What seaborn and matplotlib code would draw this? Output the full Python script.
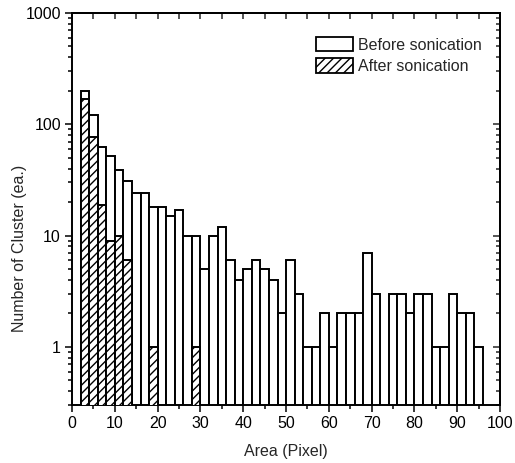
import numpy as np
import pandas as pd
import matplotlib
matplotlib.use("Agg")
import matplotlib.pyplot as plt
from matplotlib.ticker import MultipleLocator, LogLocator, FixedFormatter, FixedLocator
from matplotlib.patches import Patch
import seaborn as sns

# bin centres of the area histogram (bins are 2 px wide, 2..96)
area = list(range(3, 97, 2))

# counts, before sonication
before = [200, 122, 62, 52, 39, 31, 24, 24, 18, 18, 15, 17,
          10, 10, 5, 10, 12, 6, 4, 5, 6, 5, 4, 2,
          6, 3, 1, 1, 2, 1, 2, 2, 2, 7, 3, 0,
          3, 3, 2, 3, 3, 1, 1, 3, 2, 2, 1]

# counts after sonication
after = [170, 77, 19, 9, 10, 6, 0, 0, 1, 0, 0, 0,
         0, 1, 0, 0, 0, 0, 0, 0, 0, 0, 0, 0,
         0, 0, 0, 0, 0, 0, 0, 0, 0, 0, 0, 0,
         0, 0, 0, 0, 0, 0, 0, 0, 0, 0, 0]

df = pd.DataFrame({"area": area, "before": before, "after": after})
df = df.replace(0, np.nan)

sns.set_theme(style="ticks")
plt.rcParams["font.family"] = ["Liberation Sans", "DejaVu Sans"]
plt.rcParams["hatch.linewidth"] = 1.0

fig = plt.figure(figsize=(5.15, 4.63), dpi=100)
ax = fig.add_axes([0.14, 0.125, 0.831, 0.847])
ax.set_yscale("log")

# before sonication: open bars
sns.barplot(data=df, x="area", y="before", native_scale=True, width=1.0,
            color="white", edgecolor="black", linewidth=1.4, saturation=1,
            ax=ax, zorder=2)
# after sonication: hatched bars on top
sns.barplot(data=df, x="area", y="after", native_scale=True, width=1.0,
            color="white", edgecolor="black", linewidth=1.4, saturation=1,
            hatch="////", ax=ax, zorder=3)

ax.set_xlim(0, 100)
ax.set_ylim(0.3, 1000)
ax.xaxis.set_major_locator(MultipleLocator(10))
ax.xaxis.set_minor_locator(MultipleLocator(5))
ax.yaxis.set_major_locator(FixedLocator([1, 10, 100, 1000]))
ax.yaxis.set_major_formatter(FixedFormatter(["1", "10", "100", "1000"]))
ax.yaxis.set_minor_locator(LogLocator(base=10, subs=np.arange(2, 10)))
ax.yaxis.set_minor_formatter(FixedFormatter([]))

for side in ["top", "right", "left", "bottom"]:
    ax.spines[side].set_visible(True)
    ax.spines[side].set_linewidth(1.4)
    ax.spines[side].set_color("black")

ax.tick_params(axis="both", which="both", direction="out", color="black",
               labelsize=11.5, width=1.1, labelcolor="black", pad=3)
ax.tick_params(which="major", length=5)
ax.tick_params(which="minor", length=3)

# mirrored inward ticks on top and right
top = ax.secondary_xaxis("top")
top.xaxis.set_major_locator(MultipleLocator(5))
top.tick_params(direction="in", length=4, width=1.1, labeltop=False)
right = ax.secondary_yaxis("right")
right.yaxis.set_major_locator(FixedLocator([1, 10, 100, 1000]))
right.yaxis.set_minor_locator(LogLocator(base=10, subs=np.arange(2, 10)))
right.tick_params(which="both", direction="in", width=1.1, labelright=False)
right.tick_params(which="major", length=5)
right.tick_params(which="minor", length=3)

ax.set_xlabel("Area (Pixel)", fontsize=11.5)
ax.xaxis.set_label_coords(0.5, -0.1)
ax.set_ylabel("Number of Cluster (ea.)", fontsize=11.5)
ax.yaxis.set_label_coords(-0.105, 0.40)

handles = [Patch(facecolor="white", edgecolor="black", linewidth=1.3),
           Patch(facecolor="white", edgecolor="black", linewidth=1.3, hatch="////")]
ax.legend(handles, ["Before sonication", "After sonication"], loc="upper right",
          frameon=False, fontsize=11.5, handlelength=2.3, handleheight=1.0,
          handletextpad=0.3, labelspacing=0.35, bbox_to_anchor=(0.99, 0.975))

fig.savefig("out.png", dpi=100)
